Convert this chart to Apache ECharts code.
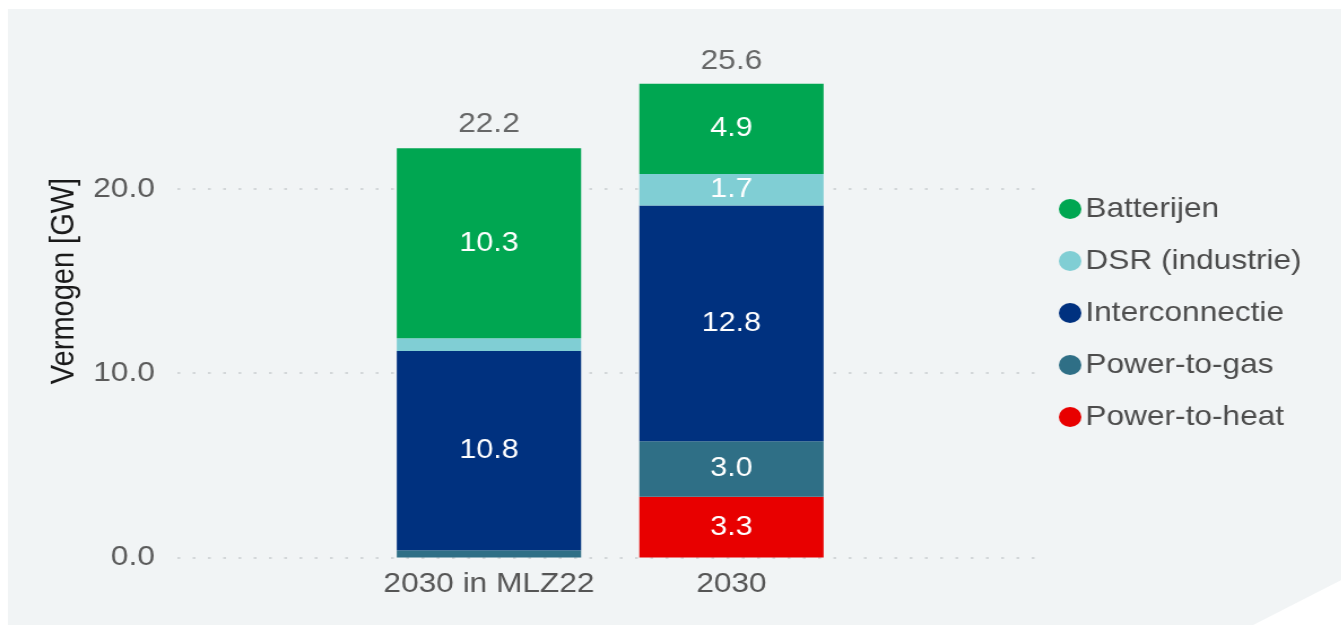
<!DOCTYPE html>
<html>
<head>
<meta charset="utf-8">
<script src="https://cdn.jsdelivr.net/npm/echarts@6/dist/echarts.min.js"></script>
<style>
  html, body { margin: 0; padding: 0; background: #ffffff; overflow: hidden; }
  /* chart is laid out narrower and widened so glyphs and markers keep the wide look */
  #chart { width: 1187px; height: 625px; transform: scaleX(1.13); transform-origin: 0 0; }
</style>
</head>
<body>
<div id="chart"></div>
<script>
// Categories (scenarios)
const categories = ['2030 in MLZ22', '2030'];

// Flexibility capacity per source, GW
const powerToHeat    = [0.0, 3.3];
const powerToGas     = [0.4, 3.0];
const interconnectie = [10.8, 12.8];
const dsrIndustrie   = [0.7, 1.7];
const batterijen     = [10.3, 4.9];

// Stated totals above each column
const totals = [22.2, 25.6];

// Y axis ticks
const yTicks = [0, 10, 20];

const FONT = '"Liberation Sans", Arial, sans-serif';

const colors = {
  'Batterijen': '#00a651',
  'DSR (industrie)': '#80ced4',
  'Interconnectie': '#00317f',
  'Power-to-gas': '#2f6f86',
  'Power-to-heat': '#e80000'
};

function segment(name, values) {
  return {
    name: name,
    type: 'bar',
    stack: 'total',
    xAxisIndex: 1,
    yAxisIndex: 1,
    barWidth: '76%',
    data: values,
    itemStyle: { color: colors[name] },
    label: {
      show: true,
      position: 'inside',
      color: '#ffffff',
      fontFamily: FONT,
      fontSize: 27,
      formatter: p => (p.value >= 1 ? p.value.toFixed(1) : '')
    },
    emphasis: { disabled: true }
  };
}

const chart = echarts.init(document.getElementById('chart'), null, { renderer: 'canvas' });

chart.setOption({
  animation: false,
  backgroundColor: 'transparent',
  graphic: [{
    type: 'polygon',
    z: -10,
    silent: true,
    shape: { points: [[7, 9], [1187, 9], [1187, 580], [1109, 625], [7, 625]] },
    style: { fill: '#f1f4f5' }
  }],
  legend: {
    data: ['Batterijen', 'DSR (industrie)', 'Interconnectie', 'Power-to-gas', 'Power-to-heat'],
    orient: 'vertical',
    left: 932,
    top: 190,
    icon: 'circle',
    itemWidth: 21,
    itemHeight: 20,
    itemGap: 24,
    textStyle: { fontFamily: FONT, fontSize: 28, color: '#4d4d4d', padding: [0, 0, 0, -2] },
    selectedMode: false
  },
  grid: [
    { left: 157, right: 261, top: 4.5, bottom: 67.5 },
    { left: 325.4, right: 432.4, top: 4.5, bottom: 67.5 }
  ],
  xAxis: [
    {
      type: 'category', gridIndex: 0, data: [''],
      axisLine: { show: false }, axisTick: { show: false }, axisLabel: { show: false }
    },
    {
      type: 'category', gridIndex: 1, data: categories,
      axisLine: { show: false }, axisTick: { show: false },
      axisLabel: { interval: 0, fontFamily: FONT, fontSize: 28, color: '#555555', margin: 13 }
    }
  ],
  yAxis: [
    {
      type: 'value', gridIndex: 0, min: 0, max: 30, interval: 10,
      name: 'Vermogen [GW]',
      nameLocation: 'middle',
      nameGap: 84,
      nameRotate: 90,
      nameTextStyle: { fontFamily: FONT, fontSize: 29, color: '#1a1a1a' },
      axisLine: { show: false }, axisTick: { show: false },
      axisLabel: {
        fontFamily: FONT, fontSize: 28, color: '#5a5a5a', margin: 20,
        showMaxLabel: false,
        formatter: v => (yTicks.includes(v) ? v.toFixed(1) : '')
      },
      splitLine: {
        show: true,
        showMaxLine: false,
        lineStyle: { color: '#d3d7d9', width: 2, type: [2.5, 11] }
      }
    },
    {
      type: 'value', gridIndex: 1, min: 0, max: 30, interval: 10,
      axisLine: { show: false }, axisTick: { show: false },
      axisLabel: { show: false }, splitLine: { show: false }
    }
  ],
  series: [
    segment('Power-to-heat', powerToHeat),
    segment('Power-to-gas', powerToGas),
    segment('Interconnectie', interconnectie),
    segment('DSR (industrie)', dsrIndustrie),
    segment('Batterijen', batterijen),
    {
      name: 'Totaal',
      type: 'scatter',
      xAxisIndex: 1,
      yAxisIndex: 1,
      data: totals,
      symbolSize: 0,
      silent: true,
      label: {
        show: true,
        position: 'top',
        distance: 10,
        fontFamily: FONT,
        fontSize: 28,
        color: '#444444',
        formatter: p => p.value.toFixed(1)
      }
    }
  ]
});
</script>
</body>
</html>
